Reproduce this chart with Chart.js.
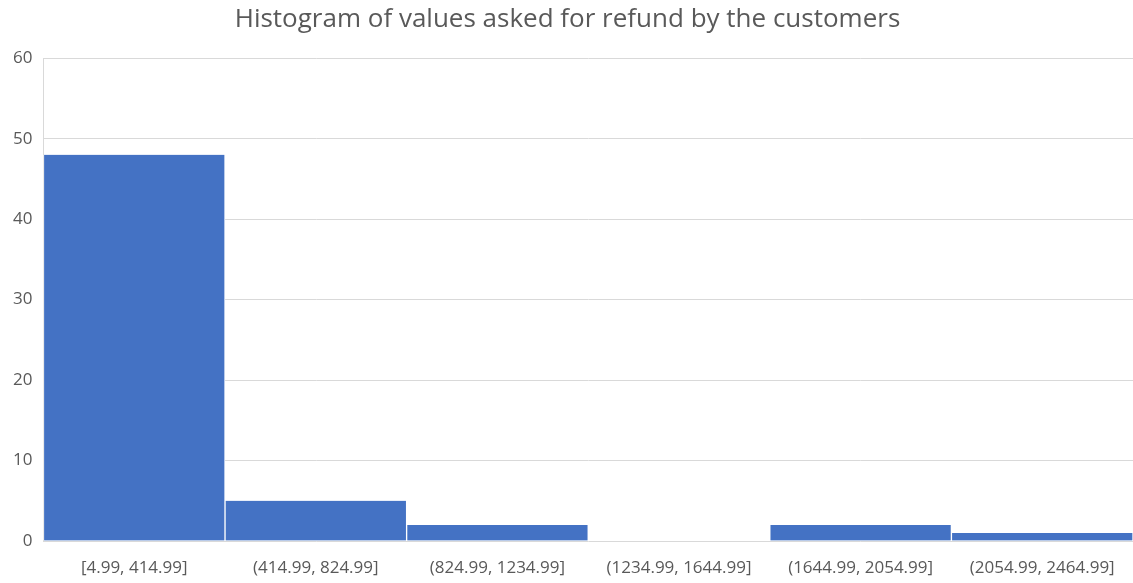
<!DOCTYPE html>
<html>
<head>
<meta charset="utf-8">
<script src="https://cdn.jsdelivr.net/npm/chart.js@4.4.1/dist/chart.umd.min.js"></script>
<style>
html,body{margin:0;padding:0;background:#fff;}
#wrap{width:1133px;height:583px;}
</style>
</head>
<body>
<div id="wrap"><canvas id="c" width="1133" height="583"></canvas></div>
<script>
const categories = ["[4.99, 414.99]", "(414.99, 824.99]", "(824.99, 1234.99]", "(1234.99, 1644.99]", "(1644.99, 2054.99]", "(2054.99, 2464.99]"];
const counts = [48, 5, 2, 0, 2, 1];
const yTicks = [0, 10, 20, 30, 40, 50, 60];
const titleText = "Histogram of values asked for refund by the customers";

new Chart(document.getElementById('c'), {
  type: 'bar',
  data: {
    labels: categories,
    datasets: [{
      data: counts,
      backgroundColor: '#4472C4',
      borderColor: '#ffffff',
      borderWidth: {left: 1, right: 1, top: 0, bottom: 0},
      barPercentage: 1.0,
      categoryPercentage: 1.0
    }]
  },
  options: {
    responsive: false,
    animation: false,
    layout: {padding: {left: 2, right: 0, top: 4, bottom: 0}},
    plugins: {
      legend: {display: false},
      tooltip: {enabled: false},
      title: {
        display: true,
        text: titleText,
        color: '#595959',
        font: {family: 'Open Sans', size: 26, weight: 'normal'},
        padding: {top: 0, bottom: 23}
      }
    },
    scales: {
      x: {
        grid: {display: false, drawTicks: false},
        border: {display: false},
        afterFit: (s) => { s.height = 42; },
        ticks: {color: '#595959', font: {family: 'Open Sans', size: 17}, padding: 17, maxRotation: 0}
      },
      y: {
        min: 0, max: 60,
        afterBuildTicks: (s) => { s.ticks = yTicks.map(v => ({value: v})); },
        grid: {color: '#d9d9d9', drawTicks: false},
        border: {display: true, color: '#d9d9d9'},
        ticks: {color: '#595959', font: {family: 'Open Sans', size: 17}, padding: 11}
      }
    }
  }
});
</script>
</body>
</html>
